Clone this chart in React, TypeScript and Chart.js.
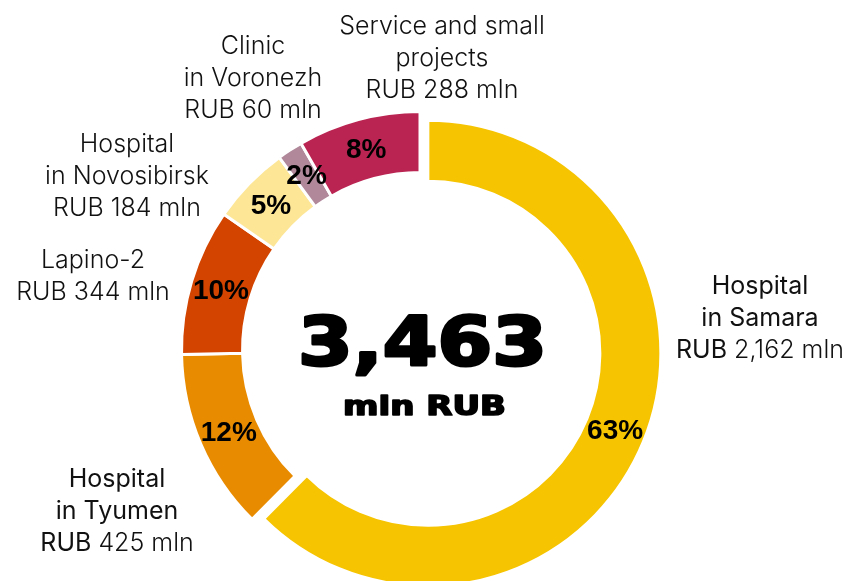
import React, { useEffect, useRef } from "react";
import { Chart, registerables } from "chart.js";

Chart.register(...registerables);

// ---------- data ----------
const categories = [
  "Hospital in Samara",
  "Hospital in Tyumen",
  "Lapino-2",
  "Hospital in Novosibirsk",
  "Clinic in Voronezh",
  "Service and small projects",
];
const values = [2162, 425, 344, 184, 60, 288];
const percentLabels = ["63%", "12%", "10%", "5%", "2%", "8%"];
const nameLines = [
  ["Hospital", "in Samara"],
  ["Hospital", "in Tyumen"],
  ["Lapino-2"],
  ["Hospital", "in Novosibirsk"],
  ["Clinic", "in Voronezh"],
  ["Service and small", "projects"],
];
const emphasized = [true, true, false, false, false, false];
const totalText = "3,463";
const unitText = "mln RUB";

// ---------- styles / layout ----------
const colors = ["#F6C400", "#E98B00", "#D24400", "#FDE696", "#B0889A", "#BA2452"];
const W = 852;
const H = 581;
const LINE_H = 32;
const labelAnchors = [
  { x: 760, y: 294 },
  { x: 117, y: 487 },
  { x: 93, y: 268 },
  { x: 127, y: 152 },
  { x: 253, y: 54 },
  { x: 442, y: 34 },
];
const FONT_LIGHT = '300 25px Inter, "Liberation Sans", sans-serif';
const FONT_REG = '400 25px Inter, "Liberation Sans", sans-serif';
const EXPLODE_DIST = 8.5;
const EXPLODE_SHRINK = 5.5;

const fmt = (v: number) => v.toLocaleString("en-US");

function drawFitted(
  ctx: CanvasRenderingContext2D,
  text: string,
  font: string,
  x: number,
  baseline: number,
  width: number,
  stroke: number
) {
  ctx.save();
  ctx.font = font;
  const w = ctx.measureText(text).width;
  const s = width / w;
  ctx.translate(x, baseline);
  ctx.scale(s, 1);
  ctx.textAlign = "center";
  ctx.textBaseline = "alphabetic";
  ctx.fillStyle = "#000";
  ctx.strokeStyle = "#000";
  ctx.lineJoin = "round";
  ctx.lineWidth = stroke;
  ctx.strokeText(text, 0, 0);
  ctx.fillText(text, 0, 0);
  ctx.restore();
}

const explodePlugin = {
  id: "explodeFirst",
  afterDatasetsUpdate(chart: any) {
    const el: any = chart.getDatasetMeta(0).data[0];
    if (!el) return;
    const mid = (el.startAngle + el.endAngle) / 2;
    el.x += Math.cos(mid) * EXPLODE_DIST;
    el.y += Math.sin(mid) * EXPLODE_DIST;
    el.outerRadius -= EXPLODE_SHRINK;
    el.innerRadius -= EXPLODE_SHRINK;
  },
};

const textPlugin = {
  id: "texts",
  afterDatasetsDraw(chart: any) {
    const ctx: CanvasRenderingContext2D = chart.ctx;
    const meta = chart.getDatasetMeta(0);
    ctx.save();
    ctx.fillStyle = "#000";
    // percentages inside the ring
    ctx.font = 'bold 28px "Liberation Sans", Arial, sans-serif';
    ctx.textAlign = "center";
    ctx.textBaseline = "middle";
    meta.data.forEach((el: any, i: number) => {
      const p = el.getCenterPoint();
      ctx.fillText(percentLabels[i], p.x, p.y + 1);
    });
    // centre total
    const ca = chart.chartArea;
    const cx = (ca.left + ca.right) / 2;
    const cy = (ca.top + ca.bottom) / 2;
    drawFitted(ctx, totalText, 'bold 68px "DejaVu Sans", sans-serif', cx + 2.5, cy + 14.5, 249, 3);
    drawFitted(ctx, unitText, 'bold 26px "DejaVu Sans", sans-serif', cx + 4.5, cy + 65, 163, 1.6);
    // outer labels
    ctx.fillStyle = "#111";
    ctx.textAlign = "left";
    ctx.textBaseline = "alphabetic";
    categories.forEach((_, i) => {
      const strong = emphasized[i];
      const lines: { t: string; f: string }[][] = nameLines[i].map((t) => [
        { t, f: strong ? FONT_REG : FONT_LIGHT },
      ]);
      lines.push([
        { t: "RUB", f: strong ? FONT_REG : FONT_LIGHT },
        { t: " " + fmt(values[i]) + " mln", f: FONT_LIGHT },
      ]);
      const a = labelAnchors[i];
      lines.forEach((runs, li) => {
        let total = 0;
        runs.forEach((r) => {
          ctx.font = r.f;
          total += ctx.measureText(r.t).width;
        });
        let x = a.x - total / 2;
        runs.forEach((r) => {
          ctx.font = r.f;
          ctx.fillText(r.t, x, a.y + li * LINE_H);
          x += ctx.measureText(r.t).width;
        });
      });
    });
    ctx.restore();
  },
};

export default function App() {
  const ref = useRef<HTMLCanvasElement>(null);
  useEffect(() => {
    if (!ref.current) return;
    const chart = new Chart(ref.current, {
      type: "doughnut",
      data: {
        labels: categories,
        datasets: [
          {
            data: values,
            backgroundColor: colors,
            borderColor: "#ffffff",
            borderWidth: 3,
            clip: false,
          } as any,
        ],
      },
      options: {
        responsive: false,
        animation: false,
        events: [],
        rotation: 0,
        radius: 238.5,
        cutout: "74.42%",
        layout: { padding: { left: 0, right: 12, top: 120, bottom: 1 } },
        plugins: { legend: { display: false }, tooltip: { enabled: false } },
      } as any,
      plugins: [explodePlugin, textPlugin],
    });
    return () => chart.destroy();
  }, []);
  return (
    <canvas
      ref={ref}
      width={W}
      height={H}
      style={{ position: "fixed", left: 0, top: 0, display: "block", background: "#fff" }}
    />
  );
}
